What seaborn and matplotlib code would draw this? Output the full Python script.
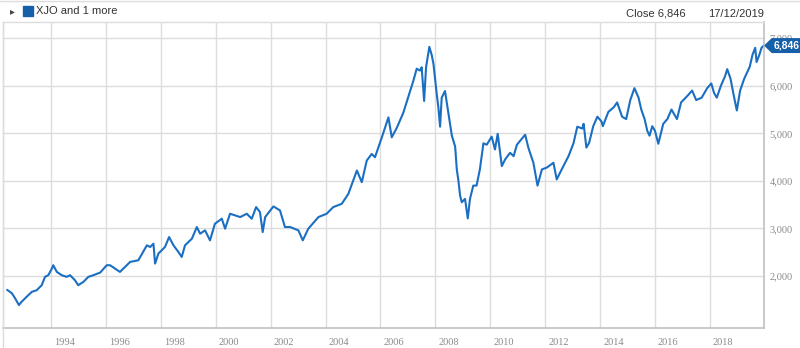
import matplotlib
matplotlib.use("Agg")
import matplotlib.pyplot as plt
import matplotlib.transforms as mtransforms
from matplotlib.patches import Polygon, Rectangle
import seaborn as sns
import pandas as pd

# ---- data ----
years = [
    1992.40, 1992.57, 1992.69, 1992.83, 1992.93, 1993.11, 1993.30, 1993.48, 1993.66, 1993.78,
    1993.90, 1994.03, 1994.08, 1994.21, 1994.39, 1994.57, 1994.69, 1994.87, 1994.99, 1995.18,
    1995.36, 1995.54, 1995.79, 1996.03, 1996.15, 1996.33, 1996.51, 1996.88, 1997.18, 1997.49,
    1997.61, 1997.73, 1997.79, 1997.91, 1998.15, 1998.30, 1998.46, 1998.64, 1998.76, 1998.88,
    1999.13, 1999.31, 1999.43, 1999.61, 1999.79, 1999.97, 2000.22, 2000.34, 2000.52, 2000.70,
    2000.89, 2001.13, 2001.31, 2001.47, 2001.61, 2001.71, 2001.80, 2002.10, 2002.34, 2002.52,
    2002.71, 2003.01, 2003.17, 2003.37, 2003.74, 2004.04, 2004.28, 2004.59, 2004.83, 2005.14,
    2005.32, 2005.50, 2005.68, 2005.80, 2006.05, 2006.29, 2006.41, 2006.59, 2006.83, 2007.08,
    2007.20, 2007.32, 2007.44, 2007.50, 2007.59, 2007.66, 2007.78, 2007.87, 2007.93, 2008.05,
    2008.11, 2008.17, 2008.23, 2008.35, 2008.48, 2008.60, 2008.72, 2008.78, 2008.84, 2008.90,
    2008.96, 2009.08, 2009.18, 2009.26, 2009.38, 2009.50, 2009.62, 2009.75, 2009.87, 2010.05,
    2010.17, 2010.27, 2010.42, 2010.54, 2010.72, 2010.85, 2010.97, 2011.27, 2011.39, 2011.57,
    2011.72, 2011.88, 2012.06, 2012.30, 2012.42, 2012.60, 2012.85, 2013.03, 2013.17, 2013.35,
    2013.40, 2013.50, 2013.60, 2013.75, 2013.90, 2014.05, 2014.10, 2014.30, 2014.50, 2014.62,
    2014.80, 2014.95, 2015.10, 2015.25, 2015.40, 2015.50, 2015.62, 2015.72, 2015.80, 2015.90,
    2016.00, 2016.12, 2016.30, 2016.45, 2016.60, 2016.80, 2016.95, 2017.20, 2017.35, 2017.50,
    2017.70, 2017.90, 2018.05, 2018.15, 2018.25, 2018.40, 2018.55, 2018.63, 2018.75, 2018.85,
    2018.98, 2019.10, 2019.25, 2019.45, 2019.55, 2019.65, 2019.70, 2019.80, 2019.88, 2019.96,
]
close = [
    1707, 1637, 1530, 1386, 1457, 1560, 1665, 1700, 1805, 1980,
    2015, 2155, 2225, 2085, 2015, 1980, 2015, 1910, 1805, 1875,
    1980, 2015, 2070, 2225, 2224, 2155, 2084, 2294, 2329, 2643,
    2608, 2678, 2259, 2469, 2608, 2818, 2643, 2503, 2399, 2643,
    2783, 3028, 2888, 2958, 2748, 3098, 3203, 2993, 3308, 3273,
    3238, 3308, 3203, 3448, 3343, 2923, 3238, 3462, 3378, 3028,
    3028, 2958, 2748, 2993, 3238, 3308, 3448, 3517, 3727, 4217,
    3972, 4427, 4566, 4497, 4916, 5336, 4916, 5110, 5430, 5890,
    6110, 6360, 6320, 6390, 5680, 6390, 6820, 6640, 6460, 5820,
    5540, 5140, 5750, 5890, 5400, 4950, 4720, 4240, 4000, 3690,
    3550, 3620, 3210, 3620, 3900, 3900, 4240, 4790, 4760, 4930,
    4660, 4990, 4310, 4450, 4590, 4520, 4760, 4970, 4690, 4380,
    3900, 4240, 4280, 4380, 4030, 4240, 4520, 4790, 5140, 5100,
    5200, 4700, 4800, 5150, 5350, 5250, 5150, 5450, 5550, 5650,
    5350, 5300, 5700, 5950, 5750, 5500, 5300, 5050, 4950, 5150,
    5050, 4780, 5200, 5300, 5500, 5300, 5650, 5800, 5900, 5700,
    5750, 5950, 6050, 5850, 5750, 6000, 6200, 6350, 6150, 5850,
    5480, 5900, 6150, 6400, 6650, 6800, 6500, 6650, 6800, 6846,
]
year_ticks = [1994, 1996, 1998, 2000, 2002, 2004, 2006, 2008, 2010, 2012, 2014, 2016, 2018]
value_ticks = [2000, 3000, 4000, 5000, 6000, 7000]
value_labels = ["2,000", "3,000", "4,000", "5,000", "6,000", "7,000"]
legend_label = "XJO and 1 more"
close_date = "17/12/2019"

df = pd.DataFrame({"year": years, "close": close})

sns.set_style("white")
plt.rcParams["font.family"] = ["Liberation Sans", "DejaVu Sans"]

W, H = 800, 348
fig = plt.figure(figsize=(W / 100, H / 100), dpi=100)
ax = fig.add_axes([3 / W, (H - 328) / H, (764 - 3) / W, (328 - 22) / H])

line_color = "#1b6fc2"
sns.lineplot(data=df, x="year", y="close", ax=ax, color=line_color, linewidth=1.5, legend=False)

ax.set_xlim(1992.25, 2019.97)
ax.set_ylim(904, 7342)
ax.set_xlabel("")
ax.set_ylabel("")

grid_c = "#dcdcdc"
ax.set_xticks(year_ticks)
ax.set_xticklabels([str(y) for y in year_ticks])
ax.set_yticks(value_ticks)
ax.set_yticklabels(value_labels)
ax.grid(True, color=grid_c, linewidth=1.0)
ax.set_axisbelow(True)

ax.yaxis.tick_right()
ax.tick_params(axis="y", length=0, pad=4, labelsize=7.5, labelcolor="#8a8a8a")
ax.tick_params(axis="x", direction="out", length=5, width=1, color=grid_c,
               pad=2, labelsize=7.5, labelcolor="#8a8a8a")
for lab in ax.get_yticklabels():
    lab.set_fontfamily(["Liberation Serif", "DejaVu Serif"])
offset = mtransforms.ScaledTranslation(3 / 100, 0, fig.dpi_scale_trans)
for lab in ax.get_xticklabels():
    lab.set_fontfamily(["Liberation Serif", "DejaVu Serif"])
    lab.set_horizontalalignment("left")
    lab.set_transform(lab.get_transform() + offset)

for side in ["left", "top"]:
    ax.spines[side].set_color(grid_c)
    ax.spines[side].set_linewidth(1.0)
for side in ["right", "bottom"]:
    ax.spines[side].set_color("#c0c0c0")
    ax.spines[side].set_linewidth(1.2)

# left frame line continues below the plot
fig.add_artist(plt.Line2D([2.5 / W, 2.5 / W], [0, (H - 22) / H], color=grid_c, linewidth=1))

# last-value badge
last = close[-1]
tr = mtransforms.blended_transform_factory(fig.transFigure, ax.transData)
hh = 6.8 / 47.7 * 1000
badge_c = "#1660a9"
poly = Polygon([(765 / W, last), (772 / W, last + hh), (800 / W, last + hh),
                (800 / W, last - hh), (772 / W, last - hh)],
               closed=True, transform=tr, color=badge_c, clip_on=False, zorder=5)
fig.add_artist(poly)
fig.text(774 / W, last, f"{last:,}", transform=tr, color="white", fontsize=7.5,
         fontweight="bold", va="center", ha="left", zorder=6)

# header
fig.add_artist(plt.Line2D([0, 1], [1 - 1 / H, 1 - 1 / H], color=grid_c, linewidth=1))
fig.text(12 / W, 1 - 11 / H, "\u25b8", fontsize=7, color="#444444", va="center", ha="center",
         family=["DejaVu Sans"])
fig.add_artist(Rectangle((23 / W, 1 - 16 / H), 10 / W, 10 / H, color=badge_c,
                         transform=fig.transFigure))
fig.text(36 / W, 1 - 11 / H, legend_label, fontsize=8, color="#333333", va="center", ha="left")
fig.text(626 / W, 1 - 14 / H, f"Close {last:,}", fontsize=8, color="#333333", va="center", ha="left")
fig.text(708 / W, 1 - 14 / H, close_date, fontsize=8, color="#333333", va="center", ha="left")

fig.savefig("out.png", dpi=100, facecolor="white")
